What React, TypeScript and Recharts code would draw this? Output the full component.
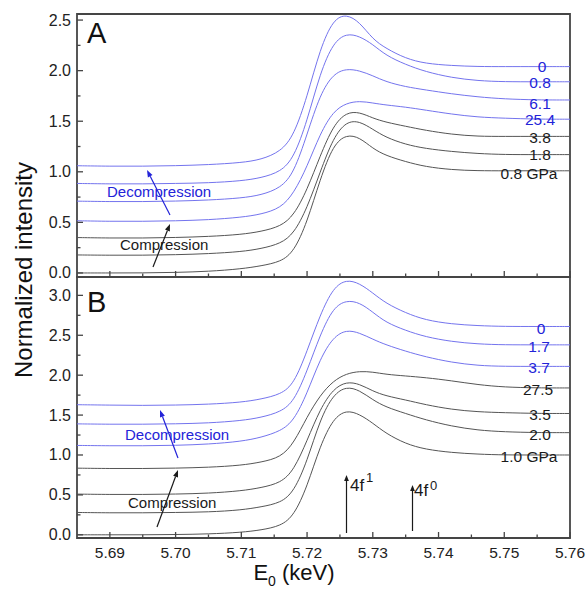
import React from 'react';
import { LineChart, Line, XAxis, YAxis, ReferenceArea } from 'recharts';

const FONT = "'Liberation Sans', Arial, Helvetica, sans-serif";
const BLUE_LINE = '#7474ee';
const BLUE_TEXT = '#2323d8';
const BLACK_LINE = '#555555';
const FRAME = '#454545';

// Energy grid (keV)
const energies = [5.685, 5.69, 5.695, 5.70, 5.705, 5.71, 5.713, 5.716, 5.718, 5.72, 5.722, 5.724, 5.726, 5.728, 5.73, 5.732, 5.735, 5.738, 5.742, 5.746, 5.75, 5.755, 5.76];

// Panel A series (top to bottom)
const labelsA = ['0', '0.8', '6.1', '25.4', '3.8', '1.8', '0.8 GPa'];
const blueA = [true, true, true, true, false, false, false];
const a0 = [1.06, 1.055, 1.055, 1.06, 1.07, 1.09, 1.12, 1.20, 1.36, 1.74, 2.22, 2.51, 2.56, 2.48, 2.31, 2.22, 2.12, 2.07, 2.05, 2.04, 2.04, 2.04, 2.04];
const a1 = [0.885, 0.88, 0.88, 0.885, 0.89, 0.91, 0.94, 1.00, 1.14, 1.50, 1.98, 2.28, 2.37, 2.34, 2.26, 2.15, 2.06, 1.99, 1.93, 1.90, 1.89, 1.89, 1.89];
const a2 = [0.71, 0.705, 0.705, 0.71, 0.72, 0.74, 0.77, 0.84, 0.99, 1.37, 1.77, 1.97, 2.02, 2.00, 1.95, 1.89, 1.84, 1.81, 1.77, 1.74, 1.72, 1.71, 1.71];
const a3 = [0.516, 0.51, 0.51, 0.515, 0.525, 0.55, 0.58, 0.64, 0.79, 1.05, 1.38, 1.60, 1.68, 1.70, 1.68, 1.66, 1.64, 1.61, 1.57, 1.54, 1.53, 1.52, 1.52];
const a4 = [0.35, 0.345, 0.345, 0.35, 0.36, 0.38, 0.41, 0.46, 0.57, 0.82, 1.16, 1.46, 1.59, 1.59, 1.53, 1.49, 1.45, 1.41, 1.37, 1.35, 1.35, 1.35, 1.35];
const a5 = [0.178, 0.175, 0.175, 0.18, 0.19, 0.21, 0.24, 0.29, 0.39, 0.64, 1.00, 1.34, 1.50, 1.50, 1.42, 1.34, 1.27, 1.23, 1.20, 1.18, 1.17, 1.17, 1.17];
const a6 = [0.0, 0.0, 0.0, 0.005, 0.015, 0.04, 0.07, 0.11, 0.21, 0.50, 0.93, 1.27, 1.37, 1.34, 1.23, 1.16, 1.10, 1.05, 1.02, 1.01, 1.01, 1.01, 1.01];
const seriesA = [a0, a1, a2, a3, a4, a5, a6];

// Panel B series (top to bottom)
const labelsB = ['0', '1.7', '3.7', '27.5', '3.5', '2.0', '1.0 GPa'];
const blueB = [true, true, true, false, false, false, false];
const b0 = [1.63, 1.625, 1.62, 1.625, 1.635, 1.66, 1.70, 1.76, 1.89, 2.30, 2.76, 3.10, 3.20, 3.15, 3.03, 2.90, 2.78, 2.69, 2.64, 2.62, 2.61, 2.61, 2.61];
const b1 = [1.39, 1.385, 1.385, 1.39, 1.40, 1.43, 1.47, 1.54, 1.67, 2.05, 2.51, 2.85, 2.94, 2.91, 2.79, 2.66, 2.56, 2.48, 2.42, 2.39, 2.38, 2.38, 2.38];
const b2 = [1.12, 1.115, 1.115, 1.12, 1.135, 1.17, 1.22, 1.30, 1.43, 1.77, 2.21, 2.48, 2.57, 2.53, 2.45, 2.38, 2.30, 2.23, 2.16, 2.12, 2.11, 2.11, 2.11];
const b3 = [0.835, 0.83, 0.83, 0.835, 0.845, 0.87, 0.91, 0.97, 1.15, 1.48, 1.75, 1.93, 2.02, 2.05, 2.04, 2.01, 1.99, 1.97, 1.93, 1.88, 1.85, 1.84, 1.84];
const b4 = [0.51, 0.505, 0.505, 0.51, 0.52, 0.55, 0.59, 0.65, 0.81, 1.18, 1.58, 1.83, 1.92, 1.89, 1.80, 1.74, 1.69, 1.63, 1.57, 1.54, 1.53, 1.52, 1.52];
const b5 = [0.28, 0.275, 0.275, 0.28, 0.285, 0.31, 0.35, 0.40, 0.54, 0.92, 1.45, 1.76, 1.86, 1.81, 1.69, 1.60, 1.52, 1.44, 1.36, 1.31, 1.29, 1.28, 1.28];
const b6 = [0.0, 0.0, 0.0, 0.003, 0.01, 0.03, 0.06, 0.11, 0.24, 0.60, 1.12, 1.46, 1.565, 1.51, 1.40, 1.27, 1.14, 1.07, 1.03, 1.01, 1.00, 1.00, 1.00];
const seriesB = [b0, b1, b2, b3, b4, b5, b6];

// Axes
const xDomain = [5.685, 5.76];
const xTicks = [5.69, 5.695, 5.70, 5.705, 5.71, 5.715, 5.72, 5.725, 5.73, 5.735, 5.74, 5.745, 5.75, 5.755, 5.76];
const yDomainA = [-0.04, 2.56];
const yTicksA = [0, 0.25, 0.5, 0.75, 1.0, 1.25, 1.5, 1.75, 2.0, 2.25, 2.5];
const yDomainB = [-0.04, 3.23];
const yTicksB = [0, 0.25, 0.5, 0.75, 1.0, 1.25, 1.5, 1.75, 2.0, 2.25, 2.5, 2.75, 3.0];

// Label placements (annotation positions, px)
const labelPosA = [[542, 66], [540, 82], [540, 103], [540, 119], [540, 137], [540, 154], [529, 173]];
const labelPosB = [[541, 328], [539, 346], [539, 367], [538, 389], [540, 414], [540, 434], [529, 456]];

const buildData = (series: number[][]) =>
  energies.map((e, i) => {
    const row: Record<string, number> = { e };
    series.forEach((s, k) => { row['s' + k] = s[i]; });
    return row;
  });

const dataA = buildData(seriesA);
const dataB = buildData(seriesB);

const isMajorX = (v: number) => Math.round(v * 1000) % 10 === 0;
const isMajorY = (v: number) => Math.abs(v * 2 - Math.round(v * 2)) < 1e-6;

const XTick = (props: any) => {
  const { x, y, payload, showLabel } = props;
  const v = payload.value as number;
  const major = isMajorX(v);
  return (
    <g>
      <line x1={x} x2={x} y1={y} y2={y - (major ? 6 : 3.5)} stroke={FRAME} strokeWidth={1.3} />
      {showLabel && major && (
        <text x={x} y={y + 20} textAnchor="middle" fontSize={15.5} fill="#222" fontFamily={FONT}>
          {v.toFixed(2)}
        </text>
      )}
    </g>
  );
};

const YTick = (props: any) => {
  const { x, y, payload } = props;
  const v = payload.value as number;
  const major = isMajorY(v);
  return (
    <g>
      <line x1={x} x2={x + (major ? 6 : 3.5)} y1={y} y2={y} stroke={FRAME} strokeWidth={1.3} />
      {major && (
        <text x={x - 6} y={y + 5.5} textAnchor="end" fontSize={16} fill="#222" fontFamily={FONT}>
          {v.toFixed(1)}
        </text>
      )}
    </g>
  );
};

const Arrow = ({ x1, y1, x2, y2, color, head = 7, w = 2.6 }: any) => {
  const dx = x2 - x1;
  const dy = y2 - y1;
  const len = Math.sqrt(dx * dx + dy * dy);
  const ux = dx / len;
  const uy = dy / len;
  const bx = x2 - ux * head;
  const by = y2 - uy * head;
  const px = -uy * w;
  const py = ux * w;
  return (
    <g>
      <line x1={x1} y1={y1} x2={bx} y2={by} stroke={color} strokeWidth={1.2} />
      <polygon points={`${x2},${y2} ${bx + px},${by + py} ${bx - px},${by - py}`} fill={color} />
    </g>
  );
};

const renderLines = (series: number[][], blue: boolean[]) =>
  series.map((_, k) => (
    <Line
      key={k}
      type="basis"
      dataKey={'s' + k}
      stroke={blue[k] ? BLUE_LINE : BLACK_LINE}
      strokeWidth={1}
      dot={false}
      activeDot={false}
      isAnimationActive={false}
    />
  ));

export default function App() {
  return (
    <div style={{ position: 'absolute', left: 0, top: 0, width: 587, height: 593, background: '#fff', fontFamily: FONT }}>
      <div style={{ position: 'absolute', left: 0, top: 0 }}>
        <LineChart width={587} height={280} data={dataA} margin={{ top: 14, right: 17, bottom: 0, left: 0 }}>
          <XAxis
            type="number"
            dataKey="e"
            domain={xDomain}
            ticks={xTicks}
            interval={0}
            tickSize={0}
            tickMargin={0}
            axisLine={false}
            tickLine={false}
            height={3}
            allowDataOverflow
            tick={(p: any) => <XTick {...p} showLabel={false} />}
          />
          <YAxis
            type="number"
            domain={yDomainA}
            ticks={yTicksA}
            interval={0}
            tickSize={0}
            tickMargin={0}
            axisLine={false}
            tickLine={false}
            width={77}
            allowDataOverflow
            tick={(p: any) => <YTick {...p} />}
          />
          <ReferenceArea x1={xDomain[0]} x2={xDomain[1]} y1={yDomainA[0]} y2={yDomainA[1]} fill="none" stroke={FRAME} strokeWidth={1.8} />
          {renderLines(seriesA, blueA)}
        </LineChart>
      </div>
      <div style={{ position: 'absolute', left: 0, top: 0 }}>
        <LineChart width={587} height={593} data={dataB} margin={{ top: 277, right: 17, bottom: 0, left: 0 }}>
          <XAxis
            type="number"
            dataKey="e"
            domain={xDomain}
            ticks={xTicks}
            interval={0}
            tickSize={0}
            tickMargin={0}
            axisLine={false}
            tickLine={false}
            height={55}
            allowDataOverflow
            tick={(p: any) => <XTick {...p} showLabel={true} />}
          />
          <YAxis
            type="number"
            domain={yDomainB}
            ticks={yTicksB}
            interval={0}
            tickSize={0}
            tickMargin={0}
            axisLine={false}
            tickLine={false}
            width={77}
            allowDataOverflow
            tick={(p: any) => <YTick {...p} />}
          />
          <ReferenceArea x1={xDomain[0]} x2={xDomain[1]} y1={yDomainB[0]} y2={yDomainB[1]} fill="none" stroke={FRAME} strokeWidth={1.8} />
          {renderLines(seriesB, blueB)}
        </LineChart>
      </div>
      <svg width={587} height={593} style={{ position: 'absolute', left: 0, top: 0, pointerEvents: 'none' }} fontFamily={FONT}>
        {/* panel letters */}
        <text x={87} y={43} fontSize={29} fill="#111">A</text>
        <text x={87} y={312} fontSize={29} fill="#111">B</text>

        {/* axis titles */}
        <text transform="translate(32,270) rotate(-90)" textAnchor="middle" fontSize={24} fill="#111">Normalized intensity</text>
        <text x={294} y={580} textAnchor="middle" fontSize={22} fill="#111">
          E<tspan fontSize={14} dy={6}>0</tspan><tspan dy={-6}> (keV)</tspan>
        </text>

        {/* pressure labels */}
        {labelsA.map((t, k) => (
          <text key={'la' + k} x={labelPosA[k][0]} y={labelPosA[k][1]} dy="0.36em" textAnchor="middle" fontSize={15.5} fill={blueA[k] ? BLUE_TEXT : '#1a1a1a'}>{t}</text>
        ))}
        {labelsB.map((t, k) => (
          <text key={'lb' + k} x={labelPosB[k][0]} y={labelPosB[k][1]} dy="0.36em" textAnchor="middle" fontSize={15.5} fill={blueB[k] ? BLUE_TEXT : '#1a1a1a'}>{t}</text>
        ))}

        {/* Panel A annotations */}
        <text x={107} y={197} fontSize={15} fill={BLUE_TEXT}>Decompression</text>
        <Arrow x1={170} y1={215} x2={147} y2={170} color={BLUE_TEXT} />
        <text x={120} y={250} fontSize={15} fill="#1a1a1a">Compression</text>
        <Arrow x1={153} y1={267} x2={170} y2={224} color="#1a1a1a" />

        {/* Panel B annotations */}
        <text x={125} y={440} fontSize={15} fill={BLUE_TEXT}>Decompression</text>
        <Arrow x1={178} y1={458} x2={160} y2={410} color={BLUE_TEXT} />
        <text x={128} y={508} fontSize={15} fill="#1a1a1a">Compression</text>
        <Arrow x1={157} y1={527} x2={178} y2={470} color="#1a1a1a" />

        {/* 4f markers */}
        <Arrow x1={346.5} y1={533} x2={346.5} y2={475} color="#1a1a1a" head={6} w={2.4} />
        <text x={350} y={491} fontSize={17} fill="#1a1a1a">4f</text>
        <text x={366} y={482} fontSize={13} fill="#1a1a1a">1</text>
        <Arrow x1={412.5} y1={531} x2={412.5} y2={485} color="#1a1a1a" head={6} w={2.4} />
        <text x={414} y={496} fontSize={17} fill="#1a1a1a">4f</text>
        <text x={430} y={490} fontSize={13} fill="#1a1a1a">0</text>
      </svg>
    </div>
  );
}
